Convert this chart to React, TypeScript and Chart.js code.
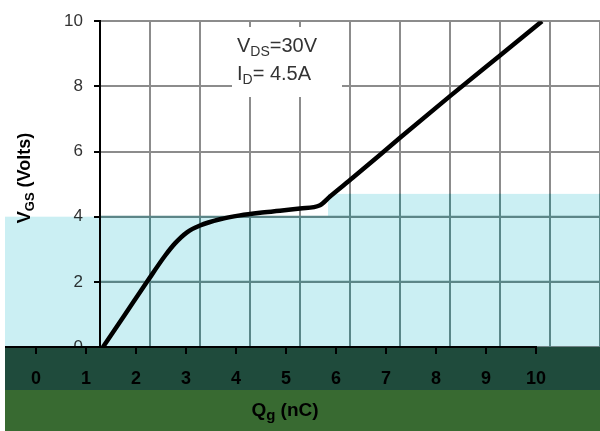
import React, { useEffect, useRef } from 'react';
import { Chart, registerables } from 'chart.js';

Chart.register(...registerables);

// Gate charge curve (Qg in nC vs VGS in volts)
const qgValues = [0.06, 0.5, 0.94, 1.3, 1.5, 1.74, 2.0, 2.4, 2.8, 3.2, 3.6, 4.0, 4.4, 4.6, 5.06, 6.0, 7.0, 8.0, 8.84];
const vgsValues = [0, 1.0, 2.0, 2.8, 3.18, 3.52, 3.73, 3.92, 4.04, 4.12, 4.18, 4.25, 4.35, 4.62, 5.2, 6.42, 7.7, 8.95, 10.0];
const xTickLabels = ['0', '1', '2', '3', '4', '5', '6', '7', '8', '9', '10'];
const yTickValues = [0, 2, 4, 6, 8, 10];
const annotationLines: [string, string, string][] = [
  ['V', 'DS', '=30V'],
  ['I', 'D', '= 4.5A'],
];

const FONT = '"Liberation Sans", Arial, sans-serif';
const LABEL_SHIFT = -64; // x tick labels sit left of the grid lines in the reference

type Part = [string, boolean];

function drawParts(ctx: CanvasRenderingContext2D, parts: Part[], cx: number, cy: number, size: number, weight: string, color: string, align: 'center' | 'left', subScale = 0.68) {
  const mainFont = `${weight} ${size}px ${FONT}`;
  const subFont = `${weight} ${Math.round(size * subScale)}px ${FONT}`;
  let total = 0;
  const widths = parts.map(([t, sub]) => {
    ctx.font = sub ? subFont : mainFont;
    const w = ctx.measureText(t).width;
    total += w;
    return w;
  });
  let x = align === 'center' ? cx - total / 2 : cx;
  ctx.fillStyle = color;
  ctx.textBaseline = 'alphabetic';
  ctx.textAlign = 'left';
  const base = cy + size * 0.35;
  parts.forEach(([t, sub], i) => {
    ctx.font = sub ? subFont : mainFont;
    ctx.fillText(t, x, sub ? base + size * 0.22 : base);
    x += widths[i];
  });
}

const overlayPlugin = {
  id: 'overlay',
  beforeDatasetsDraw(chart: any) {
    const { ctx, scales, width } = chart;
    const xs = scales.x;
    const ys = scales.y;
    const y0 = ys.getPixelForValue(0);
    const yLeft = ys.getPixelForValue(4);
    const yRight = ys.getPixelForValue(4.7);
    const splitX = 328;
    ctx.save();
    ctx.globalCompositeOperation = 'multiply';
    ctx.fillStyle = '#cbeff3';
    ctx.fillRect(5, yLeft, splitX - 5, y0 - yLeft);
    ctx.fillRect(splitX, yRight, width - splitX, y0 - yRight);
    ctx.globalCompositeOperation = 'source-over';
    // darker teal grid inside the tinted band
    ctx.strokeStyle = '#5a8688';
    ctx.lineWidth = 2;
    for (let v = 1; v <= 10; v++) {
      const px = xs.getPixelForValue(v);
      const top = px < splitX ? yLeft : yRight;
      ctx.beginPath();
      ctx.moveTo(px, top);
      ctx.lineTo(px, y0);
      ctx.stroke();
    }
    [2, 4].forEach((v) => {
      const py = ys.getPixelForValue(v);
      ctx.beginPath();
      ctx.moveTo(xs.getPixelForValue(0) + 1, py);
      ctx.lineTo(width, py);
      ctx.stroke();
    });
    ctx.restore();
  },
  afterDatasetsDraw(chart: any) {
    const { ctx, scales, width, height } = chart;
    const xs = scales.x;
    const ys = scales.y;
    const y0 = ys.getPixelForValue(0);
    ctx.save();
    // bottom bands
    ctx.fillStyle = '#1f4b3c';
    ctx.fillRect(5, y0, width - 5, 390 - y0);
    ctx.fillStyle = '#386a31';
    ctx.fillRect(5, 390, width - 5, height - 390);
    // x axis line and tick marks
    const lastX = xs.getPixelForValue(10) + LABEL_SHIFT;
    ctx.strokeStyle = '#000';
    ctx.lineWidth = 2;
    ctx.beginPath();
    ctx.moveTo(5, y0);
    ctx.lineTo(lastX + 1, y0);
    ctx.stroke();
    for (let i = 0; i < xTickLabels.length; i++) {
      const px = xs.getPixelForValue(i) + LABEL_SHIFT;
      ctx.beginPath();
      ctx.moveTo(px, y0);
      ctx.lineTo(px, y0 + 7);
      ctx.stroke();
    }
    // annotation box
    ctx.fillStyle = '#ffffff';
    ctx.fillRect(232, 27, 110, 70);
    drawParts(ctx, [[annotationLines[0][0], false], [annotationLines[0][1], true], [annotationLines[0][2], false]], 237, 45, 20, 'normal', '#333', 'left', 0.72);
    drawParts(ctx, [[annotationLines[1][0], false], [annotationLines[1][1], true], [annotationLines[1][2], false]], 237, 73, 20, 'normal', '#333', 'left', 0.72);
    // y title
    ctx.save();
    ctx.translate(24, 178);
    ctx.rotate(-Math.PI / 2);
    drawParts(ctx, [['V', false], ['GS', true], [' (Volts)', false]], 0, 0, 18, 'bold', '#000', 'center', 0.72);
    ctx.restore();
    // x title
    drawParts(ctx, [['Q', false], ['g', true], [' (nC)', false]], 285, 409, 19, 'bold', '#000', 'center', 0.78);
    ctx.restore();
  },
};

export default function App() {
  const canvasRef = useRef<HTMLCanvasElement | null>(null);

  useEffect(() => {
    const canvas = canvasRef.current;
    if (!canvas) return;
    const chart = new Chart(canvas, {
      type: 'scatter',
      data: {
        datasets: [
          {
            data: qgValues.map((q, i) => ({ x: q, y: vgsValues[i] })),
            showLine: true,
            borderColor: '#000',
            borderWidth: 4.5,
            pointRadius: 0,
            cubicInterpolationMode: 'monotone',
          },
        ],
      },
      options: {
        animation: false,
        responsive: false,
        layout: { padding: { top: 20, left: 0, right: 0, bottom: 0 } },
        plugins: { legend: { display: false }, tooltip: { enabled: false } },
        scales: {
          x: {
            type: 'linear',
            min: 0,
            max: 10,
            afterBuildTicks: (s: any) => {
              s.ticks = xTickLabels.map((_, i) => ({ value: i }));
            },
            afterFit: (s: any) => {
              s.height = 84;
              s.paddingLeft = 0;
              s.paddingRight = 0;
            },
            grid: { color: '#8c8c8c', lineWidth: 2, drawTicks: false },
            border: { display: false },
            ticks: {
              z: 1,
              autoSkip: false,
              maxRotation: 0,
              labelOffset: LABEL_SHIFT,
              padding: 21,
              color: '#000',
              font: { family: FONT, size: 18, weight: 'bold' },
              callback: (v: any) => xTickLabels[Math.round(Number(v))] ?? '',
            },
          },
          y: {
            type: 'linear',
            min: 0,
            max: 10,
            afterBuildTicks: (s: any) => {
              s.ticks = yTickValues.map((v) => ({ value: v }));
            },
            afterFit: (s: any) => {
              s.width = 100;
            },
            grid: { color: '#8c8c8c', lineWidth: 2, tickColor: '#000', tickLength: 6, tickWidth: 2 },
            border: { color: '#000', width: 2 },
            ticks: {
              padding: 11,
              color: '#333',
              font: { family: FONT, size: 17 },
            },
          },
        },
      },
      plugins: [overlayPlugin],
    } as any);
    return () => chart.destroy();
  }, []);

  return (
    <div style={{ position: 'absolute', left: 0, top: 0, width: 600, height: 431, background: '#fff' }}>
      <canvas ref={canvasRef} width={600} height={431} style={{ display: 'block' }} />
    </div>
  );
}
